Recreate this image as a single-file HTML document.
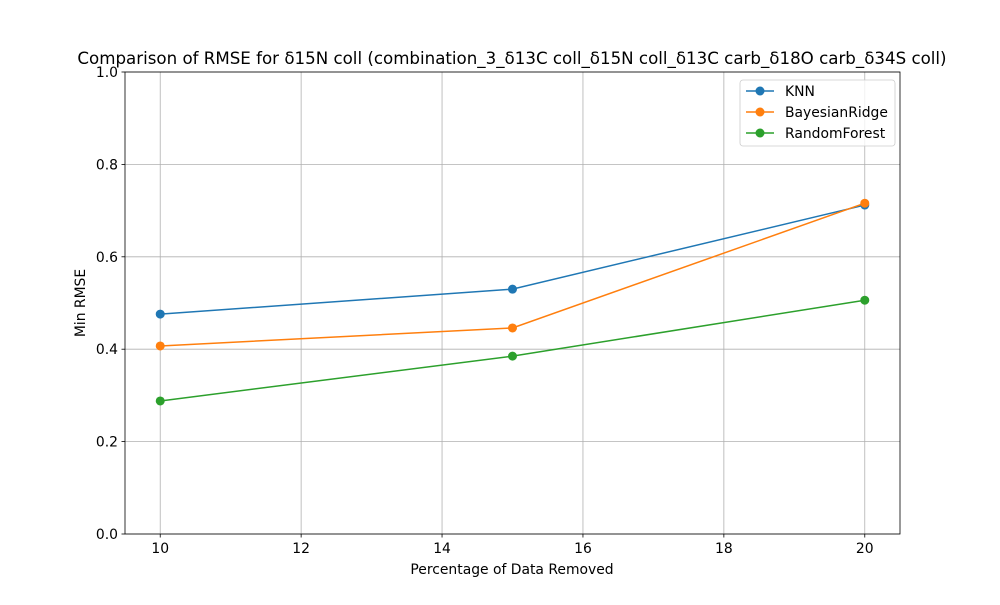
<!DOCTYPE html>
<html><head><meta charset="utf-8"><style>
body{margin:0;background:#fff;}
svg{font-family:"DejaVu Sans","Liberation Sans",sans-serif;}
</style></head><body>
<svg id="chart" width="1000" height="600" viewBox="0 0 1000 600">
<rect width="1000" height="600" fill="#fff"/>
<text x="512" y="64" text-anchor="middle" font-size="16.67">Comparison of RMSE for δ15N coll (combination_3_δ13C coll_δ15N coll_δ13C carb_δ18O carb_δ34S coll)</text>
<g id="grid"></g>
<g id="axes"></g>
<g id="series"></g>
<text x="512" y="574" text-anchor="middle" font-size="13.9">Percentage of Data Removed</text>
<text transform="translate(85,303) rotate(-90)" text-anchor="middle" font-size="13.9">Min RMSE</text>
<g id="legend"></g>
</svg>
<script>
const xValues = [10, 15, 20];
const seriesNames = ["KNN", "BayesianRidge", "RandomForest"];
const knnValues = [0.476, 0.530, 0.712];
const bayesValues = [0.407, 0.446, 0.716];
const rfValues = [0.288, 0.385, 0.506];
const xTicks = [10, 12, 14, 16, 18, 20];
const yTicks = [0.0, 0.2, 0.4, 0.6, 0.8, 1.0];
const colors = ["#1f77b4", "#ff7f0e", "#2ca02c"];

const L=125,R=900,T=72,B=534;
const xs=v=>L+(v-9.5)/11*(R-L);
const ys=v=>B-v*(B-T);
const NS="http://www.w3.org/2000/svg";
function mk(tag,attrs,parent){const e=document.createElementNS(NS,tag);for(const k in attrs)e.setAttribute(k,attrs[k]);parent.appendChild(e);return e;}
const grid=document.getElementById('grid'),axes=document.getElementById('axes'),ser=document.getElementById('series'),leg=document.getElementById('legend');
xTicks.forEach(t=>{
  const x=xs(t);
  const g=mk('line',{x1:x,x2:x,y1:T,y2:B,stroke:'#b0b0b0','stroke-width':0.8},grid);
  
  
  mk('line',{x1:x,x2:x,y1:B,y2:B+3.5,stroke:'#000','stroke-width':0.8},axes);
  const tx=mk('text',{x:x,y:B+19,'text-anchor':'middle','font-size':13.9},axes);
  tx.textContent=t;
  
  
});
yTicks.forEach(t=>{
  const y=ys(t);
  const g=mk('line',{x1:L,x2:R,y1:y,y2:y,stroke:'#b0b0b0','stroke-width':0.8},grid);
  
  
  mk('line',{x1:L-3.5,x2:L,y1:y,y2:y,stroke:'#000','stroke-width':0.8},axes);
  const tx=mk('text',{x:L-7,y:y+5,'text-anchor':'end','font-size':13.9},axes);
  tx.textContent=t.toFixed(1);
  
  
});
const frame=mk('rect',{x:L,y:T,width:R-L,height:B-T,fill:'none',stroke:'#000','stroke-width':0.8},axes);


[knnValues,bayesValues,rfValues].forEach((vals,i)=>{
  const pts=vals.map((v,j)=>xs(xValues[j])+','+ys(v)).join(' ');
  const pl=mk('polyline',{points:pts,fill:'none',stroke:colors[i],'stroke-width':1.5},ser);
  
  
  vals.forEach((v,j)=>{
    const c=mk('circle',{cx:xs(xValues[j]),cy:ys(v),r:4.5,fill:colors[i]},ser);
    
    
  });
});
const box=mk('rect',{x:740,y:80,width:155,height:66,rx:3,fill:'#fff','fill-opacity':0.8,stroke:'#ccc','stroke-width':0.8},leg);


seriesNames.forEach((n,i)=>{
  const y=91+i*21;
  mk('line',{x1:746,x2:774,y1:y,y2:y,stroke:colors[i],'stroke-width':1.5},leg);
  mk('circle',{cx:760,cy:y,r:4.5,fill:colors[i]},leg);
  const tx=mk('text',{x:785,y:y+5,'font-size':13.9},leg);
  tx.textContent=n;
  
  
});
</script>
</body></html>
